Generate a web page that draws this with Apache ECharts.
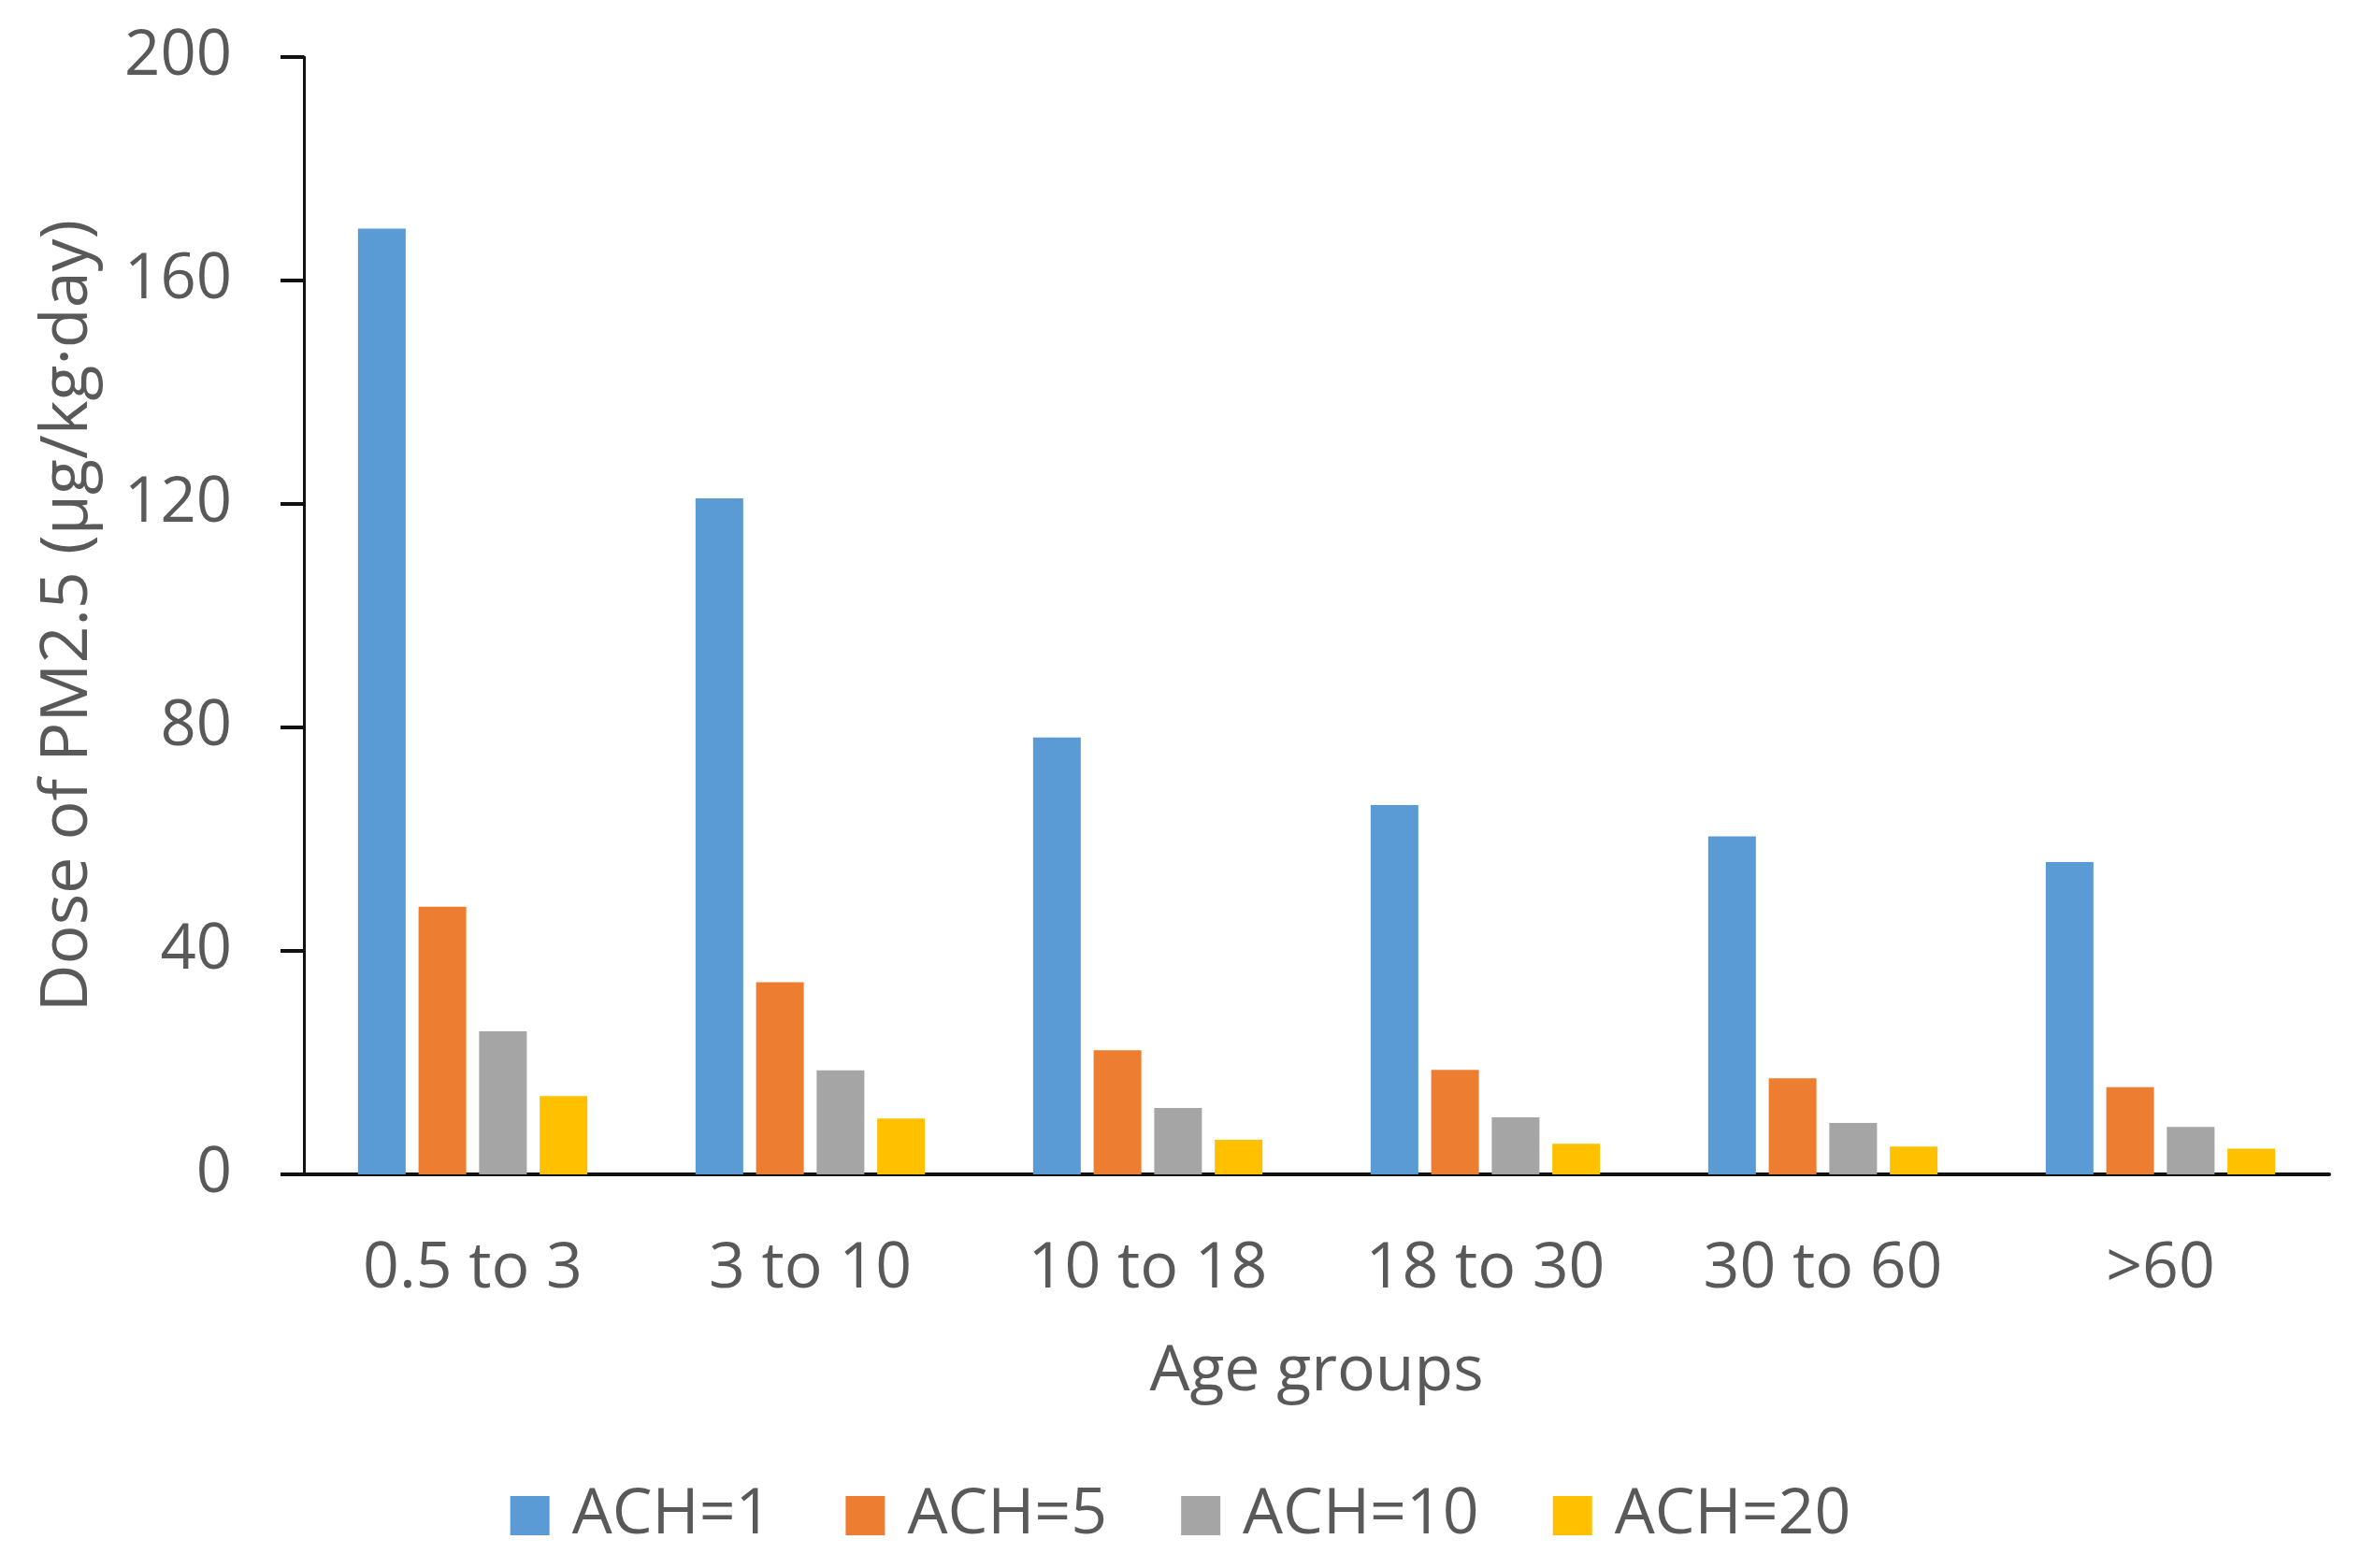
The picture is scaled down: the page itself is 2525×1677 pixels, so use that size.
<!DOCTYPE html>
<html>
<head>
<meta charset="utf-8">
<script src="https://cdn.jsdelivr.net/npm/echarts@6/dist/echarts.min.js"></script>
<style>
html,body{margin:0;padding:0;background:#fff;}
#chart{width:2525px;height:1677px;}
</style>
</head>
<body>
<div id="chart"></div>
<script>
const categories = ['0.5 to 3', '3 to 10', '10 to 18', '18 to 30', '30 to 60', '>60'];
const seriesNames = ['ACH=1', 'ACH=5', 'ACH=10', 'ACH=20'];
const ach1 = [169.3, 121.0, 78.2, 66.1, 60.5, 55.9];
const ach5 = [47.9, 34.4, 22.2, 18.7, 17.2, 15.6];
const ach10 = [25.6, 18.6, 11.9, 10.2, 9.2, 8.5];
const ach20 = [14.0, 10.0, 6.2, 5.5, 5.0, 4.6];
const yTicks = [0, 40, 80, 120, 160, 200];

const colors = ['#5B9BD5', '#ED7D31', '#A5A5A5', '#FFC000'];
const FONT = 'Open Sans';
const TXT = '#595959';

const chart = echarts.init(document.getElementById('chart'));
const dataSets = [ach1, ach5, ach10, ach20];
chart.setOption({
  animation: false,
  backgroundColor: '#fff',
  color: colors,
  grid: { left: 325, right: 34, top: 61, bottom: 421, containLabel: false },
  legend: {
    data: seriesNames,
    top: 1582,
    left: 'center',
    icon: 'rect',
    itemWidth: 42,
    itemHeight: 42,
    itemGap: 79,
    textStyle: { fontFamily: FONT, fontSize: 68, color: TXT, padding: [0, 0, 0, 19] }
  },
  xAxis: {
    type: 'category',
    data: categories,
    name: 'Age groups',
    nameLocation: 'middle',
    nameGap: 178,
    nameTextStyle: { fontFamily: FONT, fontSize: 68, color: TXT },
    axisLine: { show: true, lineStyle: { color: '#111', width: 4 } },
    axisTick: { show: false },
    axisLabel: { fontFamily: FONT, fontSize: 68, color: TXT, margin: 68 },
    splitLine: { show: false }
  },
  yAxis: {
    type: 'value',
    min: 0, max: 200, interval: 40,
    name: 'Dose of PM2.5 (μg/kg·day)',
    nameLocation: 'middle',
    nameGap: 252,
    nameRotate: 90,
    nameTextStyle: { fontFamily: FONT, fontSize: 70, color: TXT, verticalAlign: 'middle' },
    axisLine: { show: true, lineStyle: { color: '#111', width: 3 } },
    axisTick: { show: true, length: 25, lineStyle: { color: '#111', width: 4 } },
    axisLabel: { fontFamily: FONT, fontSize: 67, color: TXT, margin: 77,
      formatter: v => yTicks.includes(v) ? String(v) : '' },
    splitLine: { show: false }
  },
  series: seriesNames.map((n, i) => ({
    name: n,
    type: 'bar',
    data: dataSets[i],
    barWidth: 51,
    barGap: '27%',
    itemStyle: { color: colors[i] }
  }))
});
</script>
</body>
</html>
